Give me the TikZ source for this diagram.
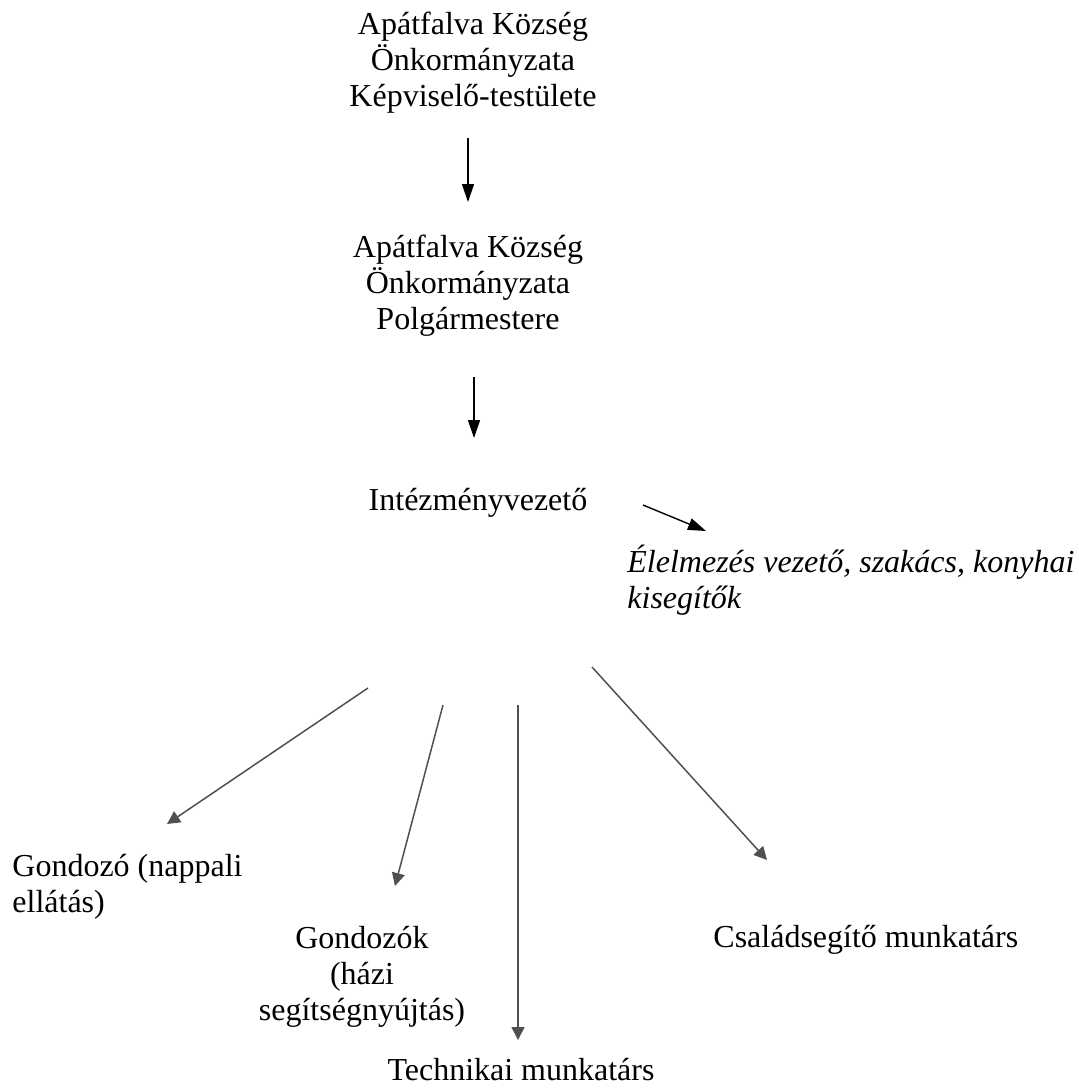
\documentclass[tikz,border=0pt]{standalone}
\usepackage{fontspec}
\setmainfont{Liberation Serif}
\usetikzlibrary{arrows.meta}
\definecolor{arrgray}{HTML}{505050}
\begin{document}
\begin{tikzpicture}[x=0.5pt,y=-0.5pt,
  lbl/.style={inner sep=0pt,font=\fontsize{16}{18}\selectfont},
  toparrow/.style={draw=black,line width=0.7pt,-{Triangle[length=9pt,width=6pt]}},
  lowarrow/.style={draw=arrgray,line width=0.75pt,-{Triangle[length=6.5pt,width=6.5pt]}}]
\useasboundingbox (0,0) rectangle (1078,1088);
\node[lbl,align=center] (kt) at (473,63) {Apátfalva Község\\Önkormányzata\\Képviselő-testülete};
\node[lbl,align=center] (pm) at (468,286) {Apátfalva Község\\Önkormányzata\\Polgármestere};
\node[lbl] (iv) at (478,503) {Intézményvezető};
\node[lbl,align=left,anchor=west,font=\fontsize{16}{18}\selectfont\itshape] (el) at (627,580) {Élelmezés vezető, szakács, konyhai\\kisegítők};
\node[lbl,align=left,anchor=west] (gn) at (12,887) {Gondozó (nappali\\ellátás)};
\node[lbl,align=center] (gh) at (362,977) {Gondozók\\(házi\\segítségnyújtás)};
\node[lbl] (tm) at (521,1070) {Technikai munkatárs};
\node[lbl,anchor=west] (cs) at (713,940) {Családsegítő munkatárs};
\coordinate (a1s) at (468,138); \coordinate (a1e) at (468,202);
\coordinate (a2s) at (474,377); \coordinate (a2e) at (474,438);
\coordinate (a3s) at (643,505); \coordinate (a3e) at (706,531);
\coordinate (b1s) at (368,688); \coordinate (b1e) at (167,824);
\coordinate (b2s) at (443,705); \coordinate (b2e) at (395,886);
\coordinate (b3s) at (518,705); \coordinate (b3e) at (518,1040);
\coordinate (b4s) at (592,667); \coordinate (b4e) at (767,860);
\draw[toparrow] (a1s) -- (a1e);
\draw[toparrow] (a2s) -- (a2e);
\draw[toparrow] (a3s) -- (a3e);
\draw[lowarrow] (b1s) -- (b1e);
\draw[lowarrow] (b2s) -- (b2e);
\draw[lowarrow] (b3s) -- (b3e);
\draw[lowarrow] (b4s) -- (b4e);
\end{tikzpicture}
\end{document}
